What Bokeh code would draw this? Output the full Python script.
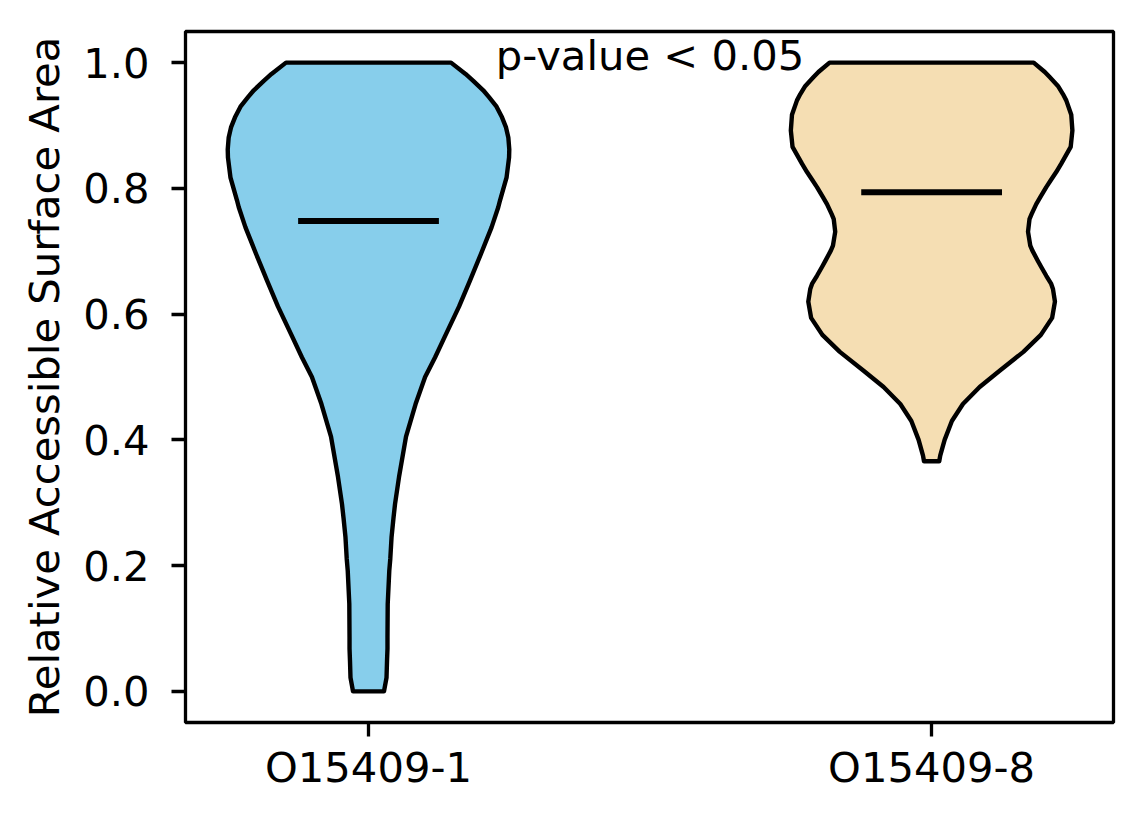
from bokeh.plotting import figure
from bokeh.models import FixedTicker, PrintfTickFormatter, Range1d
from bokeh.core.properties import value
from bokeh.embed import file_html
from bokeh.resources import INLINE

# ---- data ----
categories = ["O15409-1", "O15409-8"]
positions = [1, 2]
fill_colors = ["#87CEEB", "#F5DEB3"]

# violin 1: relative ASA levels and half-widths of the density (x units)
v1_y = [0.000, 0.022, 0.049, 0.068, 0.086, 0.139, 0.192, 0.211, 0.245, 0.276,
        0.298, 0.341, 0.405, 0.457, 0.500, 0.531, 0.565, 0.612, 0.653, 0.666,
        0.696, 0.718, 0.738, 0.770, 0.781, 0.817, 0.849, 0.862, 0.881, 0.897,
        0.913, 0.930, 0.945, 0.956, 0.971, 0.982, 1.000]
v1_hw = [0.0275, 0.0320, 0.0329, 0.0337, 0.0337, 0.0341, 0.0369, 0.0387, 0.0409, 0.0444,
         0.0471, 0.0542, 0.0666, 0.0836, 0.1005, 0.1181, 0.1359, 0.1607, 0.1800, 0.1860,
         0.1998, 0.2096, 0.2185, 0.2304, 0.2336, 0.2451, 0.2496, 0.2500, 0.2483, 0.2442,
         0.2371, 0.2274, 0.2140, 0.2037, 0.1860, 0.1723, 0.1465]

# violin 2
v2_y = [0.366, 0.375, 0.400, 0.430, 0.457, 0.484, 0.510, 0.540, 0.567, 0.594,
        0.620, 0.640, 0.648, 0.661, 0.675, 0.685, 0.701, 0.709, 0.731, 0.751,
        0.759, 0.775, 0.786, 0.802, 0.812, 0.826, 0.839, 0.847, 0.866, 0.892,
        0.917, 0.940, 0.950, 0.963, 0.977, 0.985, 1.000]
v2_hw = [0.0135, 0.0153, 0.0231, 0.0360, 0.0556, 0.0853, 0.1208, 0.1630, 0.1940, 0.2140,
         0.2190, 0.2155, 0.2124, 0.2036, 0.1947, 0.1885, 0.1790, 0.1752, 0.1712, 0.1738,
         0.1775, 0.1858, 0.1930, 0.2036, 0.2110, 0.2213, 0.2300, 0.2350, 0.2470, 0.2500,
         0.2480, 0.2391, 0.2332, 0.2243, 0.2096, 0.2010, 0.1812]

means = [0.748, 0.794]
y_ticks = [0.0, 0.2, 0.4, 0.6, 0.8, 1.0]
annotation = "p-value < 0.05"

FONT = "DejaVu Sans"
FS = "41.7px"

p = figure(width=1136, height=816, output_backend="svg", toolbar_location=None,
           x_range=Range1d(0.675, 2.323), y_range=Range1d(-0.0495, 1.0495),
           min_border_left=185, min_border_right=23, min_border_top=31,
           min_border_bottom=94)
p.background_fill_color = "white"
p.border_fill_color = "white"
p.outline_line_color = "black"
p.outline_line_width = 3.3
p.grid.visible = False

violins = [(v1_y, v1_hw), (v2_y, v2_hw)]
for pos, (ys, hws), col, m in zip(positions, violins, fill_colors, means):
    xs = [pos - h for h in hws] + [pos + h for h in reversed(hws)]
    yy = list(ys) + list(reversed(ys))
    p.patch(xs, yy, fill_color=col, fill_alpha=1.0, line_color="black",
            line_width=4.4, line_join="round")
    p.segment(x0=[pos - 0.125], y0=[m], x1=[pos + 0.125], y1=[m],
              line_color="black", line_width=6)

p.text(x=[1.5], y=[1.012], text=[annotation], text_align="center",
       text_baseline="alphabetic", text_font=value(FONT), text_font_size=FS,
       text_color="black")

# axes
p.xaxis.ticker = FixedTicker(ticks=positions)
p.xaxis.major_label_overrides = {pos: c for pos, c in zip(positions, categories)}
p.yaxis.ticker = FixedTicker(ticks=y_ticks)
p.yaxis.formatter = PrintfTickFormatter(format="%.1f")
p.yaxis.axis_label = "Relative Accessible Surface Area"

for ax in (p.xaxis[0], p.yaxis[0]):
    ax.axis_line_color = None
    ax.major_tick_in = 0
    ax.major_tick_out = 14
    ax.major_tick_line_width = 3.3
    ax.major_tick_line_color = "black"
    ax.minor_tick_line_color = None
    ax.major_label_text_font = FONT
    ax.major_label_text_font_size = FS
    ax.major_label_text_color = "black"
    ax.axis_label_text_font = FONT
    ax.axis_label_text_font_size = FS
    ax.axis_label_text_font_style = "normal"
    ax.axis_label_text_color = "black"

p.yaxis.major_label_standoff = 22
p.yaxis.axis_label_standoff = 11
p.xaxis.major_label_standoff = 6

open("out.html", "w").write(file_html(p, INLINE))
